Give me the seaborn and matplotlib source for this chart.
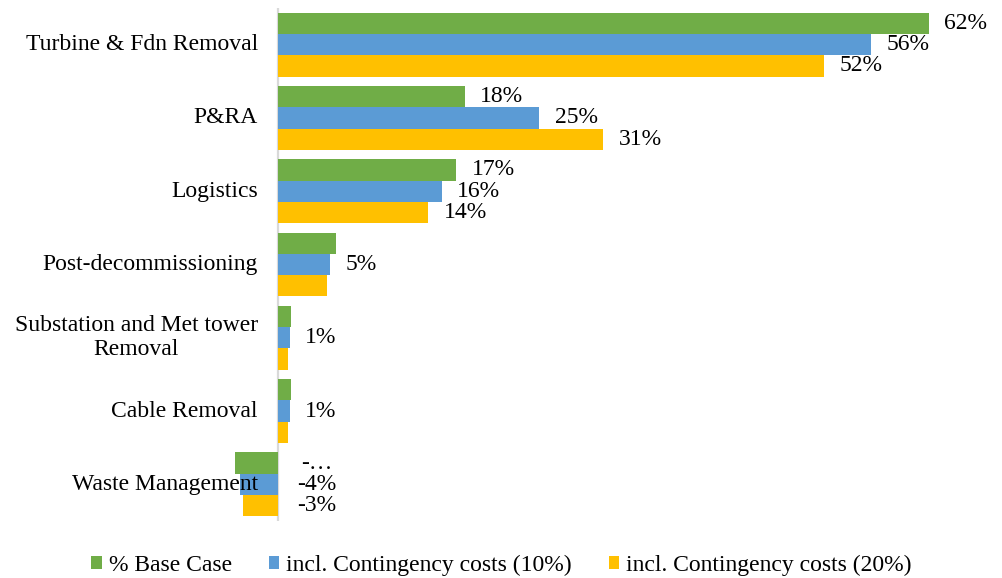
import matplotlib
matplotlib.use('Agg')
import matplotlib.pyplot as plt
import seaborn as sns
import pandas as pd
from matplotlib.patches import Patch

sns.set_theme(style='white')
plt.rcParams['font.family'] = ['Liberation Serif', 'DejaVu Serif']

categories = ['Turbine & Fdn Removal', 'P&RA', 'Logistics', 'Post-decommissioning',
              'Substation and Met tower\nRemoval', 'Cable Removal', 'Waste Management']
series = ['% Base Case', 'incl. Contingency costs (10%)', 'incl. Contingency costs (20%)']
base_case = [62.0, 17.8, 17.0, 5.5, 1.2, 1.2, -4.1]
cont_10 = [56.5, 24.9, 15.6, 5.0, 1.1, 1.1, -3.6]
cont_20 = [52.0, 31.0, 14.3, 4.7, 1.0, 1.0, -3.3]
labels_base = ['62%', '18%', '17%', None, None, None, '-…']
labels_10 = ['56%', '25%', '16%', '5%', '1%', '1%', '-4%']
labels_20 = ['52%', '31%', '14%', None, None, None, '-3%']
colors = ['#70AD47', '#5B9BD5', '#FFC000']

df = pd.DataFrame({
    'category': categories * 3,
    'series': [s for s in series for _ in categories],
    'value': base_case + cont_10 + cont_20,
})

fig = plt.figure(figsize=(10.03, 5.78), dpi=100)
# zero line sits at x=278px, 10.5 px per percent
x0, x1 = -5.0, 66.0
left_px = 278 - 5.0 * 10.5
right_px = 278 + 66.0 * 10.5
ax = fig.add_axes([left_px / 1003, 1 - 521 / 578, (right_px - left_px) / 1003, 513 / 578])

sns.barplot(data=df, x='value', y='category', hue='series', order=categories,
            hue_order=series, palette=colors, saturation=1, orient='h', width=0.87,
            linewidth=0, ax=ax, legend=False)

ax.set_xlim(x0, x1)
ax.set_ylim(6.5, -0.5)
for s in ax.spines.values():
    s.set_visible(False)
ax.set_xticks([])
ax.set_yticks([])
ax.set_xlabel('')
ax.set_ylabel('')
ax.axvline(0, color='#D9D9D9', lw=1.6, zorder=0)

fs = 17
for i, cat in enumerate(categories):
    ax.annotate(cat, xy=(0, i), xytext=(-14.5, 0), textcoords='offset points',
                ha='right', va='center', multialignment='center', fontsize=fs,
                linespacing=1.2, color='#000000')

all_labels = [labels_base, labels_10, labels_20]
for cont, labs in zip(ax.containers, all_labels):
    for bar, lab in zip(cont, labs):
        if lab is None:
            continue
        w = bar.get_width()
        yc = bar.get_y() + bar.get_height() / 2
        if w >= 0:
            ax.annotate(lab, xy=(w, yc), xytext=(11, 0), textcoords='offset points',
                        ha='left', va='center', fontsize=fs, color='#000000')
        else:
            ax.annotate(lab, xy=(0, yc), xytext=(28, 0), textcoords='offset points',
                        ha='center', va='center', fontsize=fs, color='#000000')

handles = [Patch(facecolor=c, edgecolor='none', label=s) for c, s in zip(colors, series)]
fig.legend(handles=handles, loc='center', bbox_to_anchor=(0.5, 1 - 565 / 578), ncol=3,
           frameon=False, fontsize=fs, labelcolor='#000000', handlelength=0.45,
           handleheight=0.45, handletextpad=0.3, columnspacing=1.55)

fig.savefig('out.png', dpi=100)
